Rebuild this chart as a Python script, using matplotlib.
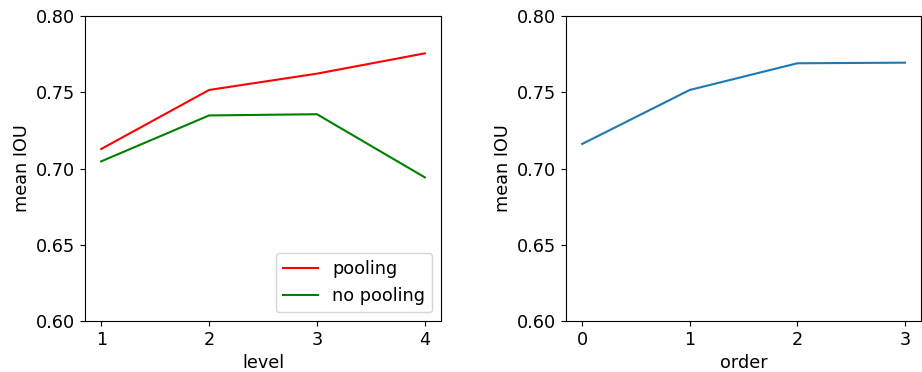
import matplotlib
matplotlib.use('Agg')
import matplotlib.pyplot as plt

plt.rcParams['font.size'] = 12.7

# left panel: mean IOU per level
levels = [1, 2, 3, 4]
iou_pooling = [0.7128, 0.7515, 0.7622, 0.7755]
iou_no_pooling = [0.7047, 0.7348, 0.7356, 0.6942]

# right panel: mean IOU per order
orders = [0, 1, 2, 3]
iou_order = [0.7161, 0.7515, 0.7690, 0.7694]

fig, (ax1, ax2) = plt.subplots(1, 2, figsize=(9.22, 3.72), dpi=100)
ax1.set_position([0.0922, 0.137, 0.4783 - 0.0922, 0.957 - 0.137])
ax2.set_position([0.6139, 0.137, 0.999 - 0.6139, 0.957 - 0.137])

ax1.plot(levels, iou_pooling, color='r', label='pooling')
ax1.plot(levels, iou_no_pooling, color='g', label='no pooling')
ax1.set_ylim(0.6, 0.8)
ax1.set_xticks(levels)
ax1.set_yticks([0.60, 0.65, 0.70, 0.75, 0.80])
ax1.set_xlabel('level')
ax1.set_ylabel('mean IOU')
ax1.legend(loc='lower right')

ax2.plot(orders, iou_order)
ax2.set_ylim(0.6, 0.8)
ax2.set_xticks(orders)
ax2.set_yticks([0.60, 0.65, 0.70, 0.75, 0.80])
ax2.set_xlabel('order')
ax2.set_ylabel('mean IOU')

fig.savefig('out.png', dpi=100)
